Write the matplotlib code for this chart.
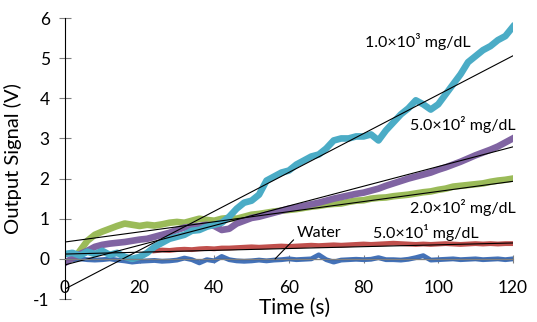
import numpy as np
import matplotlib
matplotlib.use("Agg")
from matplotlib import pyplot as plt

plt.rcParams['font.family'] = ['Lato', 'DejaVu Sans']
plt.rcParams['axes.unicode_minus'] = False

# time axis (s), one reading every 2 s
t = np.arange(0, 122, 2)

water = [-0.05, -0.02, 0.0, -0.02, -0.03, -0.02, 0.0, -0.03, -0.05, -0.08,
         -0.06, -0.05, -0.04, -0.06, -0.05, -0.03, 0.02, -0.02, -0.1, -0.02,
         -0.05, 0.06, -0.02, -0.05, -0.06, -0.05, -0.03, -0.05, -0.03, -0.02,
         0.0, -0.02, -0.01, 0.0, 0.1, -0.02, -0.08, -0.03, -0.02, -0.01,
         -0.02, -0.01, 0.03, -0.02, -0.02, -0.03, -0.01, 0.03, 0.08, -0.03,
         -0.02, -0.01, 0.0, -0.02, -0.01, 0.0, -0.02, -0.01, 0.0, -0.02, 0.0]

# 50 mg/dL starts at 24 s
t_50 = np.arange(24, 122, 2)
c_50 = [0.2, 0.22, 0.21, 0.23, 0.24, 0.23, 0.25, 0.26, 0.25, 0.27,
        0.27, 0.28, 0.29, 0.3, 0.29, 0.3, 0.31, 0.32, 0.31, 0.32,
        0.33, 0.34, 0.33, 0.34, 0.35, 0.34, 0.35, 0.36, 0.37, 0.36,
        0.37, 0.38, 0.39, 0.38, 0.37, 0.36, 0.37, 0.36, 0.37, 0.38,
        0.37, 0.36, 0.37, 0.38, 0.37, 0.38, 0.37, 0.38, 0.38]

# 200 mg/dL starts at 4 s
t_200 = np.arange(4, 122, 2)
c_200 = [0.2, 0.45, 0.6, 0.68, 0.75, 0.82, 0.88, 0.85, 0.82, 0.85,
         0.83, 0.86, 0.9, 0.92, 0.9, 0.95, 1.0, 0.97, 0.95, 1.0,
         1.02, 1.0, 1.05, 1.1, 1.12, 1.15, 1.18, 1.2, 1.22, 1.24,
         1.27, 1.3, 1.32, 1.35, 1.37, 1.38, 1.42, 1.45, 1.46, 1.5,
         1.52, 1.53, 1.56, 1.58, 1.6, 1.63, 1.66, 1.68, 1.72, 1.75,
         1.8, 1.82, 1.84, 1.86, 1.88, 1.92, 1.95, 1.97, 2.0]

c_500 = [-0.1, 0.02, 0.12, 0.2, 0.3, 0.35, 0.38, 0.4, 0.42, 0.45,
         0.48, 0.5, 0.55, 0.6, 0.65, 0.72, 0.78, 0.8, 0.82, 0.85,
         0.82, 0.72, 0.75, 0.88, 0.95, 1.02, 1.05, 1.1, 1.15, 1.2,
         1.25, 1.28, 1.32, 1.36, 1.4, 1.45, 1.5, 1.54, 1.58, 1.62,
         1.65, 1.7, 1.75, 1.82, 1.88, 1.94, 2.0, 2.05, 2.1, 2.15,
         2.22, 2.28, 2.35, 2.42, 2.5, 2.58, 2.65, 2.72, 2.8, 2.9, 3.0]

c_1000 = [0.12, 0.15, 0.08, 0.18, 0.12, 0.2, 0.1, 0.15, 0.05, 0.0,
          0.05, 0.15, 0.3, 0.4, 0.5, 0.55, 0.6, 0.7, 0.72, 0.8,
          0.85, 0.9, 1.05, 1.25, 1.4, 1.45, 1.6, 1.95, 2.05, 2.15,
          2.2, 2.35, 2.45, 2.55, 2.6, 2.75, 2.95, 3.0, 3.0, 3.05,
          3.05, 3.1, 2.95, 3.2, 3.4, 3.6, 3.75, 3.95, 3.85, 3.72,
          3.85, 4.1, 4.35, 4.6, 4.9, 5.05, 5.2, 5.3, 5.45, 5.55, 5.78]

# linear fits drawn in black (intercept, slope), water .. 1000 mg/dL
fit_b = [0.0, 0.12, 0.42, -0.15, -0.75]
fit_k = [0.0, 0.0023, 0.0126, 0.0245, 0.0484]

colors = ['#4472b8', '#c0504d', '#9bbb59', '#8064a2', '#4bacc6']
labels = ['5.0×10¹ mg/dL', '2.0×10² mg/dL', '5.0×10² mg/dL', '1.0×10³ mg/dL']
label_xy = [(82.5, 0.65), (92.5, 1.27), (92.5, 3.34), (80.5, 5.41)]

fig = plt.figure(figsize=(5.37, 3.22), dpi=100)
ax = fig.add_axes([0.121, 0.0714, 0.834, 0.8726])

ax.plot(t, water, color=colors[0], lw=3.5)
ax.plot(t_50, c_50, color=colors[1], lw=3.5)
ax.plot(t_200, c_200, color=colors[2], lw=4.8)
ax.plot(t, c_500, color=colors[3], lw=4.8)
ax.plot(t, c_1000, color=colors[4], lw=4.8)

xf = np.array([0, 120])
for b, k in zip(fit_b, fit_k):
    ax.plot(xf, b + k * xf, color='black', lw=0.8)

for txt, (x, y) in zip(labels, label_xy):
    ax.text(x, y, txt, fontsize=11.5, va='center', ha='left')

ax.annotate('Water', xy=(56.3, 0.0), xytext=(62.0, 0.65), fontsize=11.5,
            va='center', ha='left',
            arrowprops=dict(arrowstyle='-', color='black', lw=0.8,
                            shrinkA=0, shrinkB=0, relpos=(0, 0.2)))

ax.set_xlim(0, 120)
ax.set_ylim(-1, 6)
ax.set_xticks(np.arange(0, 121, 20))
ax.set_yticks(np.arange(-1, 7, 1))
ax.spines['top'].set_visible(False)
ax.spines['right'].set_visible(False)
ax.spines['bottom'].set_position(('data', 0))
ax.spines['bottom'].set_color('#808080')
ax.spines['left'].set_color('black')
ax.tick_params(axis='y', direction='inout', length=8, color='#808080',
               labelsize=12.5, pad=7)
ax.tick_params(axis='x', direction='inout', length=6, color='#808080',
               labelsize=12.5, pad=12.5)
ax.set_xlabel('Time (s)', fontsize=15)
ax.set_ylabel('Output Signal (V)', fontsize=14.5)
ax.xaxis.set_label_coords(0.513, 0.004)
ax.yaxis.set_label_coords(-0.095, 0.5)

fig.savefig('out.png', dpi=100)
